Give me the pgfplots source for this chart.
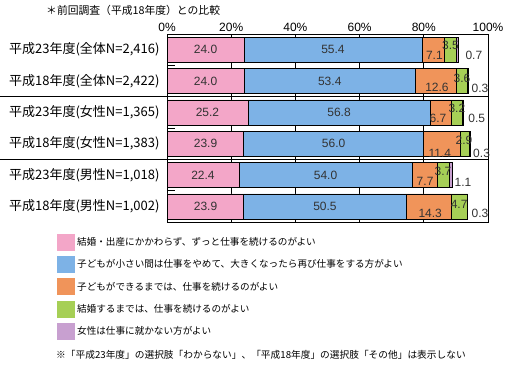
\documentclass[border=0pt]{standalone}
\usepackage{pgfplots}
\pgfplotsset{compat=1.18}
\usepackage{pgfplotstable}
\usepackage{fontspec}
\setmainfont{Liberation Sans}
\newfontfamily\jp{Noto Sans CJK JP}
\definecolor{cpink}{RGB}{243,166,200}
\definecolor{cblue}{RGB}{125,178,230}
\definecolor{corange}{RGB}{240,148,90}
\definecolor{cgreen}{RGB}{166,207,86}
\definecolor{clilac}{RGB}{200,160,208}

\pgfplotstableread{
row pink blue orange green lilac
0 24.0 55.4 7.1 3.5 0.7
1 24.0 53.4 12.6 3.6 0.3
2 25.2 56.8 6.7 3.2 0.5
3 23.9 56.0 11.4 2.9 0.3
4 22.4 54.0 7.7 3.7 1.1
5 23.9 50.5 14.3 4.7 0.3
}\bars

\pgfplotstableread{
x y lab
12.0 0 24.0
51.7 0 55.4
83.3 0.18 7.1
88.3 -0.14 3.5
95.6 0.18 0.7
12.0 1 24.0
50.7 1 53.4
84.1 1.19 12.6
91.9 0.90 3.6
97.5 1.22 0.3
12.6 2 25.2
53.6 2 56.8
84.4 2.19 6.7
90.3 1.87 3.2
96.5 2.19 0.5
12.0 3 23.9
51.9 3 56.0
85.0 3.32 11.4
92.5 2.90 2.9
98.0 3.32 0.3
11.2 4 22.4
49.4 4 54.0
80.4 4.19 7.7
86.0 3.87 3.7
92.2 4.22 1.1
12.0 5 23.9
49.2 5 50.5
82.0 5.22 14.3
91.0 4.94 4.7
97.5 5.22 0.3
}\labels

\pgfplotsset{
  sq/.style={legend image code/.code={\fill[##1,draw=none] (0bp,-8.5bp) rectangle (18bp,8.5bp);}},
  geom/.style={at={(167bp,143bp)}, anchor=south west, width=321bp, height=188bp,
    scale only axis, xmin=0, xmax=100, ymin=-0.5, ymax=5.5, y dir=reverse, clip=false},
}

\begin{document}
\begin{tikzpicture}
\useasboundingbox (0bp,0bp) rectangle (509bp,365bp);
\node[anchor=west, inner sep=0pt, font=\jp\fontsize{10.8bp}{12bp}\selectfont] at (46bp,355bp) {＊前回調査（平成18年度）との比較};
\node[anchor=west, inner sep=0pt, font=\jp\fontsize{9.7bp}{11bp}\selectfont] at (56bp,10bp) {※「平成23年度」の選択肢「わからない」、「平成18年度」の選択肢「その他」は表示しない};
\begin{axis}[geom,
  xbar stacked, bar width=0.8,
  axis line style={black, line width=0.8bp},
  xtick={0,20,40,60,80,100},
  xticklabels={0\%,20\%,40\%,60\%,80\%,100\%},
  xticklabel pos=upper,
  x tick label style={font=\fontsize{12bp}{14bp}\selectfont, yshift=-1bp},
  xmajorgrids, major grid style={black, line width=0.7bp},
  x tick style={draw=none},
  ytick={0,1,2,3,4,5},
  yticklabels={{平成23年度(全体N=2,416)},{平成18年度(全体N=2,422)},{平成23年度(女性N=1,365)},{平成18年度(女性N=1,383)},{平成23年度(男性N=1,018)},{平成18年度(男性N=1,002)}},
  y tick label style={font=\jp\fontsize{13bp}{15bp}\selectfont, xshift=-4bp},
  ytick pos=left,
  y tick style={draw=none},
  extra y ticks={0.5,2.5,4.5},
  extra y tick labels={},
  extra y tick style={y tick style={draw=black, line width=0.8bp}, major tick length=8bp, tick align=inside},
  /pgf/number format/assume math mode=true,
  legend style={at={(-0.3427,-0.062)}, anchor=north west, draw=none, fill=none,
    inner sep=0pt, row sep=5.3bp,
    font=\jp\fontsize{9.6bp}{11bp}\selectfont,
    nodes={inner xsep=2bp, inner ysep=0pt}},
  legend cell align=left,
]
\addplot[sq, fill=cpink, draw=black, line width=0.6bp] table[x=pink, y=row] {\bars};
\addplot[sq, fill=cblue, draw=black, line width=0.6bp] table[x=blue, y=row] {\bars};
\addplot[sq, fill=corange, draw=black, line width=0.6bp] table[x=orange, y=row] {\bars};
\addplot[sq, fill=cgreen, draw=black, line width=0.6bp] table[x=green, y=row] {\bars};
\addplot[sq, fill=clilac, draw=black, line width=0.6bp] table[x=lilac, y=row] {\bars};
\legend{結婚・出産にかかわらず、ずっと仕事を続けるのがよい,子どもが小さい間は仕事をやめて、大きくなったら再び仕事をする方がよい,子どもができるまでは、仕事を続けるのがよい,結婚するまでは、仕事を続けるのがよい,女性は仕事に就かない方がよい}
\draw[black, line width=0.8bp] (axis cs:100,1.5) -- (axis cs:0,1.5) -- ++(-167bp,0bp);
\draw[black, line width=0.8bp] (axis cs:100,3.5) -- (axis cs:0,3.5) -- ++(-167bp,0bp);
\end{axis}
\begin{axis}[geom, hide axis]
\addplot[only marks, mark=*, mark size=0pt, mark options={draw=none, fill=none},
  nodes near coords, point meta=explicit symbolic,
  every node near coord/.style={anchor=center, inner sep=0pt, text=black!80, font=\fontsize{12bp}{14bp}\selectfont}]
  table[x=x, y=y, meta=lab] {\labels};
\end{axis}
\end{tikzpicture}
\end{document}
